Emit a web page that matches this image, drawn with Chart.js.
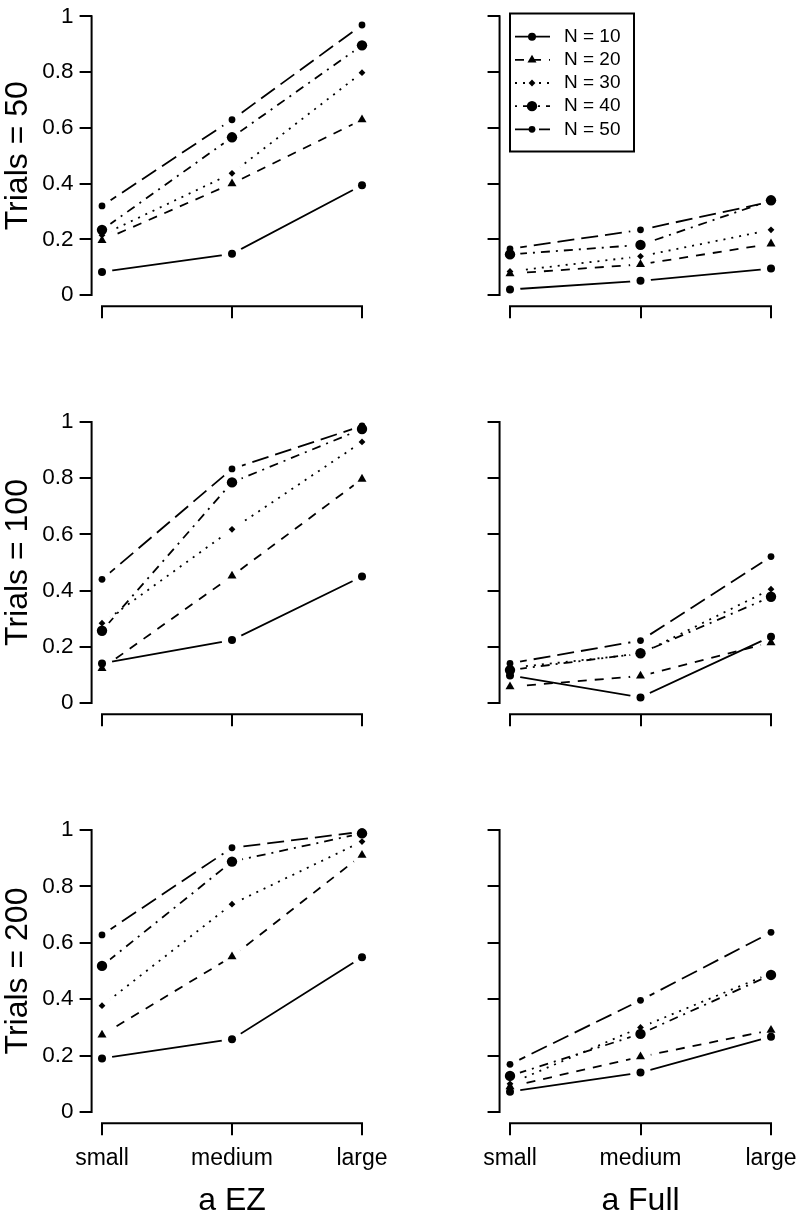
<!doctype html>
<html>
<head>
    <meta charset="UTF-8"/>
    <title>Power by effect size</title>
    <style type="text/css">
        body {
            margin: 0;
            padding: 0;
            background-color: #fff;
        }
        #wrap {
            position: relative;
            width: 799px;
            height: 1217px;
        }
        canvas {
            position: absolute;
        }
    </style>
</head>
<body>
    <div id="wrap">
        <canvas id="p00"></canvas>
        <canvas id="p01"></canvas>
        <canvas id="p10"></canvas>
        <canvas id="p11"></canvas>
        <canvas id="p20"></canvas>
        <canvas id="p21"></canvas>
    </div>

    <script src="https://cdn.jsdelivr.net/npm/chart.js"></script>

    <script>
        // Categories, labels
        const sizes = ['small', 'medium', 'large'];
        const seriesLabels = ['N = 10', 'N = 20', 'N = 30', 'N = 40', 'N = 50'];
        const yTickValues = [0, 0.2, 0.4, 0.6, 0.8, 1];
        const yTickLabels = ['0', '0.2', '0.4', '0.6', '0.8', '1'];
        const rowTitles = ['Trials = 50', 'Trials = 100', 'Trials = 200'];
        const colTitles = ['a EZ', 'a Full'];

        // Values per panel: one row per N (10, 20, 30, 40, 50), one column per size
        const ez50 = [
            [0.083, 0.148, 0.394],
            [0.196, 0.400, 0.629],
            [0.215, 0.437, 0.798],
            [0.234, 0.566, 0.896],
            [0.320, 0.629, 0.969]
        ];
        const full50 = [
            [0.020, 0.051, 0.095],
            [0.077, 0.110, 0.184],
            [0.085, 0.139, 0.234],
            [0.146, 0.180, 0.340],
            [0.166, 0.234, 0.335]
        ];
        const ez100 = [
            [0.141, 0.224, 0.450],
            [0.123, 0.452, 0.797],
            [0.284, 0.618, 0.929],
            [0.257, 0.785, 0.975],
            [0.440, 0.833, 0.986]
        ];
        const full100 = [
            [0.098, 0.020, 0.236],
            [0.058, 0.096, 0.215],
            [0.125, 0.175, 0.405],
            [0.117, 0.177, 0.378],
            [0.141, 0.222, 0.521]
        ];
        const ez200 = [
            [0.190, 0.258, 0.549],
            [0.273, 0.551, 0.911],
            [0.377, 0.737, 0.959],
            [0.518, 0.888, 0.988],
            [0.628, 0.937, 0.994]
        ];
        const full200 = [
            [0.072, 0.140, 0.267],
            [0.090, 0.196, 0.290],
            [0.100, 0.300, 0.492],
            [0.128, 0.277, 0.486],
            [0.169, 0.396, 0.637]
        ];

        // Styles for N = 10 .. 50
        const dashes = [[], [9, 8], [2, 6], [2, 6, 9, 6], [17, 7]];
        const markers = ['circle', 'triangle', 'rectRot', 'circle', 'circle'];
        const markerSize = [4, 5.2, 3.4, 5.2, 3.4];
        const gapR = 10.5;

        const FONT = "'Liberation Sans', Arial, Helvetica, sans-serif";
        Chart.defaults.font.family = FONT;
        Chart.defaults.color = '#000';

        // page geometry of each row / column (tick positions of the axes)
        const rowBox = [
            {top: 0, h: 405, y1: 14, y0: 295},
            {top: 405, h: 405, y1: 422, y0: 703},
            {top: 810, h: 407, y1: 830, y0: 1112}
        ];
        const colBox = [
            {left: 0, w: 400, x1: 102, x3: 362},
            {left: 400, w: 399, x1: 510, x3: 771}
        ];

        // lines of type "b": leave a gap round each point
        const gapPlugin = {
            id: 'gaps',
            beforeDatasetDraw(chart, args) {
                if (!chart.data.datasets[args.index].gap) return;
                const ctx = chart.ctx;
                const hole = new Path2D();
                hole.rect(0, 0, chart.width, chart.height);
                args.meta.data.forEach(p => {
                    hole.moveTo(p.x + gapR, p.y);
                    hole.arc(p.x, p.y, gapR, 0, Math.PI * 2);
                });
                ctx.save();
                ctx.clip(hole, 'evenodd');
            },
            afterDatasetDraw(chart, args) {
                if (chart.data.datasets[args.index].gap) chart.ctx.restore();
            }
        };

        // axis lines only from first to last tick
        const axisLines = {
            id: 'axisLines',
            afterDraw(chart) {
                const {ctx, chartArea, scales: {x, y}} = chart;
                ctx.save();
                ctx.strokeStyle = '#000';
                ctx.lineWidth = 2;
                ctx.lineCap = 'square';
                ctx.beginPath();
                ctx.moveTo(chartArea.left, y.getPixelForValue(yTickValues[0]));
                ctx.lineTo(chartArea.left, y.getPixelForValue(yTickValues[yTickValues.length - 1]));
                ctx.moveTo(x.getPixelForValue(1), chartArea.bottom);
                ctx.lineTo(x.getPixelForValue(sizes.length), chartArea.bottom);
                ctx.stroke();
                ctx.restore();
            }
        };

        const legendBox = {
            id: 'legendBox',
            afterDraw(chart) {
                const ctx = chart.ctx;
                ctx.save();
                ctx.strokeStyle = '#000';
                ctx.fillStyle = '#000';
                ctx.lineWidth = 2;
                ctx.strokeRect(110, 13.5, 124, 138);
                ctx.font = '19px ' + FONT;
                ctx.textBaseline = 'middle';
                seriesLabels.forEach((lab, i) => {
                    const y = 36.7 + i * 23.15;
                    ctx.lineWidth = 1.8;
                    ctx.setLineDash(dashes[i]);
                    ctx.beginPath();
                    ctx.moveTo(115, y);
                    ctx.lineTo(150, y);
                    ctx.stroke();
                    ctx.setLineDash([]);
                    Chart.helpers.drawPoint(ctx, {pointStyle: markers[i], radius: markerSize[i], rotation: 0, borderWidth: 0}, 132, y);
                    ctx.fillText(lab, 164, y);
                });
                ctx.restore();
            }
        };

        function makePanel(id, values, row, col) {
            const rb = rowBox[row], cb = colBox[col];
            const canvas = document.getElementById(id);
            canvas.width = cb.w;
            canvas.height = rb.h;
            canvas.style.left = cb.left + 'px';
            canvas.style.top = rb.top + 'px';

            const xStep = (cb.x3 - cb.x1) / 2;
            const ySpan = rb.y0 - rb.y1;
            const area = {
                left: cb.x1 - 0.08 * xStep - cb.left,
                right: cb.x3 + 0.08 * xStep - cb.left,
                top: rb.y1 - 0.04 * ySpan - rb.top,
                bottom: rb.y0 + 0.04 * ySpan - rb.top
            };

            const datasets = [];
            values.forEach((vals, i) => {
                const pts = vals.map((v, j) => ({x: j + 1, y: v}));
                datasets.push({
                    label: seriesLabels[i],
                    data: pts,
                    gap: true,
                    showLine: true,
                    borderColor: '#000',
                    borderWidth: 1.8,
                    borderDash: dashes[i],
                    pointRadius: 0,
                    pointHoverRadius: 0,
                    tension: 0,
                    fill: false,
                    order: 10 + i
                });
                datasets.push({
                    label: seriesLabels[i],
                    data: pts,
                    showLine: false,
                    pointStyle: markers[i],
                    pointRadius: markerSize[i],
                    pointHoverRadius: markerSize[i],
                    pointBackgroundColor: '#000',
                    pointBorderColor: '#000',
                    pointBorderWidth: 0,
                    order: 4 - i
                });
            });

            const plugins = [gapPlugin, axisLines];
            if (row === 0 && col === 1) plugins.push(legendBox);

            return new Chart(canvas, {
                type: 'line',
                data: {datasets: datasets},
                plugins: plugins,
                options: {
                    responsive: false,
                    animation: false,
                    devicePixelRatio: 1,
                    events: [],
                    layout: {padding: {left: 0, top: area.top, right: cb.w - area.right, bottom: 0}},
                    plugins: {legend: {display: false}, tooltip: {enabled: false}},
                    scales: {
                        x: {
                            type: 'linear',
                            min: 1 - 0.08,
                            max: sizes.length + 0.08,
                            afterBuildTicks: s => { s.ticks = sizes.map((c, j) => ({value: j + 1})); },
                            afterFit: s => {
                                s.height = rb.h - area.bottom;
                                s.paddingLeft = 0;
                                s.paddingRight = 0;
                            },
                            grid: {drawOnChartArea: false, drawTicks: true, tickLength: 12, color: '#000', lineWidth: 2},
                            border: {display: false},
                            ticks: {
                                display: row === 2,
                                padding: 10,
                                color: '#000',
                                maxRotation: 0,
                                autoSkip: false,
                                font: {size: 23},
                                callback: v => sizes[Math.round(v) - 1]
                            },
                            title: {
                                display: row === 2,
                                text: colTitles[col],
                                color: '#000',
                                font: {size: 32, lineHeight: 1},
                                padding: {top: 0, bottom: 0}
                            }
                        },
                        y: {
                            min: -0.04,
                            max: 1.04,
                            afterBuildTicks: s => { s.ticks = yTickValues.map(v => ({value: v})); },
                            afterFit: s => {
                                s.width = area.left;
                                s.paddingTop = 0;
                                s.paddingBottom = 0;
                            },
                            grid: {drawOnChartArea: false, drawTicks: true, tickLength: 12, color: '#000', lineWidth: 2},
                            border: {display: false},
                            ticks: {
                                display: col === 0,
                                padding: 6,
                                color: '#000',
                                font: {size: 22.5},
                                callback: (v, i) => yTickLabels[i]
                            },
                            title: {
                                display: col === 0,
                                text: rowTitles[row],
                                color: '#000',
                                font: {size: 32, lineHeight: 1},
                                padding: {top: 2, bottom: 0}
                            }
                        }
                    }
                }
            });
        }

        makePanel('p00', ez50, 0, 0);
        makePanel('p01', full50, 0, 1);
        makePanel('p10', ez100, 1, 0);
        makePanel('p11', full100, 1, 1);
        makePanel('p20', ez200, 2, 0);
        makePanel('p21', full200, 2, 1);
    </script>
</body>
</html>
